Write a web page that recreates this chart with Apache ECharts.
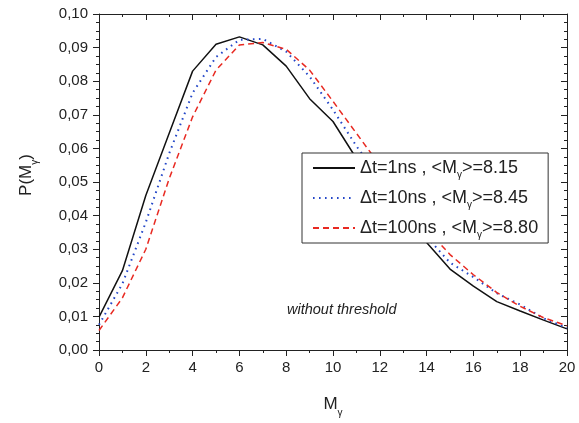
<!DOCTYPE html>
<html>
<head>
<meta charset="utf-8">
<script src="https://cdn.jsdelivr.net/npm/echarts@6/dist/echarts.min.js"></script>
<style>
html,body{margin:0;padding:0;background:#fff;}
#chart{width:579px;height:423px;}
</style>
</head>
<body>
<div id="chart"></div>
<script>
// Multiplicity values (x axis)
const Ms = [0,1,2,3,4,5,6,7,8,9,10,11,12,13,14,15,16,17,18,19,20];
// P(M_gamma) for each time window
const p1ns   = [0.0098,0.0236,0.046,0.0645,0.083,0.091,0.0932,0.0908,0.0845,0.0748,0.068,0.057,0.048,0.040,0.032,0.0241,0.019,0.0144,0.0116,0.0089,0.0063];
const p10ns  = [0.0075,0.0197,0.038,0.0585,0.0765,0.0872,0.0923,0.0926,0.0888,0.0814,0.0715,0.0607,0.051,0.042,0.0337,0.026,0.0217,0.0169,0.0135,0.0094,0.0066];
const p100ns = [0.0058,0.0155,0.030,0.051,0.0694,0.0833,0.0908,0.0915,0.0895,0.0833,0.074,0.0645,0.055,0.045,0.036,0.0284,0.0224,0.0171,0.013,0.0096,0.0072];
const seriesNames = ['Δt=1ns , <Mγ>=8.15', 'Δt=10ns , <Mγ>=8.45', 'Δt=100ns , <Mγ>=8.80'];
const legendLabels = ['Δt=1ns , <M{s|γ}>=8.15', 'Δt=10ns , <M{s|γ}>=8.45', 'Δt=100ns , <M{s|γ}>=8.80'];

const FONT = "'Liberation Sans', Arial, sans-serif";
const chart = echarts.init(document.getElementById('chart'), null, {renderer:'canvas'});
const pairs = arr => Ms.map((m,i)=>[m, arr[i]]);

const axisLineStyle = {color:'#222', width:1};
const subRich = {s:{fontSize:10, verticalAlign:'bottom', lineHeight:28, fontFamily:FONT, color:'#222'}};
const option = {
  backgroundColor:'#fff',
  animation:false,
  grid:{left:99, right:12, top:14, bottom:63, containLabel:false},
  xAxis:[{
    type:'value', min:0, max:20, interval:2, position:'bottom',
    name:'M{s|γ}', nameLocation:'middle', nameGap:40,
    nameTextStyle:{fontFamily:FONT, fontSize:17, color:'#222', rich:subRich},
    axisLine:{show:true, onZero:false, lineStyle:axisLineStyle},
    axisTick:{show:true, inside:false, length:6, lineStyle:axisLineStyle},
    minorTick:{show:true, splitNumber:2, length:3, lineStyle:axisLineStyle},
    axisLabel:{fontFamily:FONT, fontSize:15, color:'#222', margin:10},
    splitLine:{show:false}
  },{
    type:'value', min:0, max:20, interval:2, position:'top',
    axisLine:{show:true, onZero:false, lineStyle:axisLineStyle},
    axisTick:{show:true, inside:true, length:6, lineStyle:axisLineStyle},
    minorTick:{show:true, splitNumber:2, length:3, lineStyle:axisLineStyle},
    axisLabel:{show:false}, splitLine:{show:false}
  }],
  yAxis:[{
    type:'value', min:0, max:0.1, interval:0.01, position:'left',
    name:'P(M{s|γ})', nameLocation:'middle', nameGap:59, nameRotate:90,
    nameTextStyle:{fontFamily:FONT, fontSize:17, color:'#222', padding:[0,0,0,14], rich:subRich},
    axisLine:{show:true, onZero:false, lineStyle:axisLineStyle},
    axisTick:{show:true, inside:false, length:6, lineStyle:axisLineStyle},
    minorTick:{show:true, splitNumber:4, length:3, lineStyle:axisLineStyle},
    axisLabel:{fontFamily:FONT, fontSize:15, color:'#222', margin:11,
      formatter:v=>v.toFixed(2).replace('.',',')},
    splitLine:{show:false}
  },{
    type:'value', min:0, max:0.1, interval:0.01, position:'right',
    axisLine:{show:true, onZero:false, lineStyle:axisLineStyle},
    axisTick:{show:true, inside:true, length:6, lineStyle:axisLineStyle},
    minorTick:{show:true, splitNumber:4, length:3, lineStyle:axisLineStyle},
    axisLabel:{show:false}, splitLine:{show:false}
  }],
  legend:{
    show:true, orient:'vertical', left:302, top:153,
    backgroundColor:'#fff', borderColor:'#333', borderWidth:1,
    padding:[3,10,3,10], itemWidth:42, itemHeight:14, itemGap:6,
    data:seriesNames,
    itemStyle:{opacity:0, color:'transparent', borderWidth:0},
    formatter:name=>legendLabels[seriesNames.indexOf(name)],
    textStyle:{fontFamily:FONT, fontSize:18, color:'#222', lineHeight:22,
      rich:{s:{fontSize:10, fontFamily:FONT, color:'#222', verticalAlign:'bottom', lineHeight:24}}}
  },
  graphic:[{
    type:'text', left:287, top:302,
    style:{text:'without threshold', fontFamily:FONT, fontSize:14.5, fontStyle:'italic', fill:'#222'}
  }],
  series:[
    {name:seriesNames[0], type:'line', data:pairs(p1ns), showSymbol:false, symbol:'none',
      lineStyle:{color:'#111', width:1.5, type:'solid'}, itemStyle:{color:'#111'}},
    {name:seriesNames[1], type:'line', data:pairs(p10ns), showSymbol:false, symbol:'none',
      lineStyle:{color:'#2447c8', width:2, type:[1.6,4.4]}, itemStyle:{color:'#2447c8'}},
    {name:seriesNames[2], type:'line', data:pairs(p100ns), showSymbol:false, symbol:'none',
      lineStyle:{color:'#e82a22', width:1.5, type:[6,4]}, itemStyle:{color:'#e82a22'}}
  ]
};
chart.setOption(option);
</script>
</body>
</html>
